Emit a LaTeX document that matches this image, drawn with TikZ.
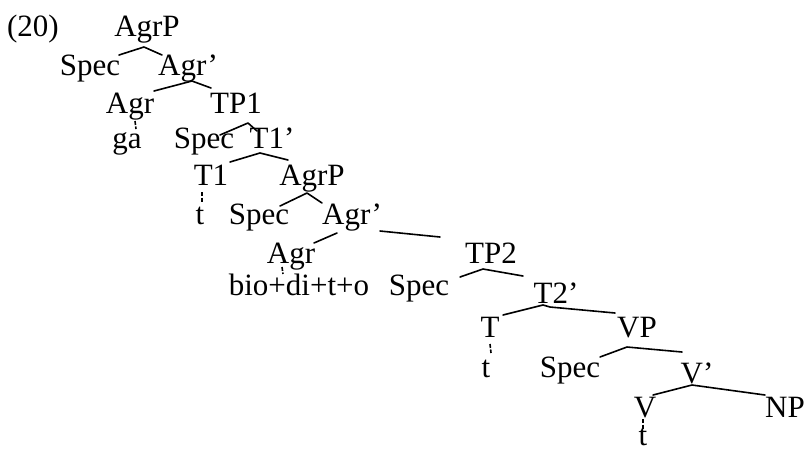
\documentclass[tikz,border=0pt]{standalone}
\usepackage{fontspec}
\setmainfont{Liberation Serif}
\begin{document}
\begin{tikzpicture}[x=1pt,y=-1pt,
  lbl/.style={inner sep=0pt, anchor=base, font=\fontsize{31}{36}\selectfont},
  br/.style={line width=1.6pt, line join=round, line cap=round},
  trace/.style={line width=1.6pt, dash pattern=on 4pt off 1.5pt}]
\useasboundingbox (0,0) rectangle (805,451);
% labels
\node[lbl] (ex) at (33,36) {(20)};
\node[lbl] (agrp1) at (147,36) {AgrP};
\node[lbl] (spec1) at (90,75) {Spec};
\node[lbl] (agrb1) at (188,75) {Agr’};
\node[lbl] (agr1) at (130,113) {Agr};
\node[lbl] (tp1) at (236,113) {TP1};
\node[lbl] (ga) at (127,148) {ga};
\node[lbl] (spec2) at (204,148) {Spec};
\node[lbl] (t1b) at (272,148) {T1’};
\node[lbl] (t1) at (211,185) {T1};
\node[lbl] (agrp2) at (312,185) {AgrP};
\node[lbl] (tra) at (200,224) {t};
\node[lbl] (spec3) at (259,224) {Spec};
\node[lbl] (agrb2) at (352,224) {Agr’};
\node[lbl] (agr2) at (291,263) {Agr};
\node[lbl] (tp2) at (491,263) {TP2};
\node[lbl] (bio) at (299,295) {bio+di+t+o};
\node[lbl] (spec4) at (419,295) {Spec};
\node[lbl] (t2b) at (556,303) {T2’};
\node[lbl] (tt) at (490,337) {T};
\node[lbl] (vp) at (637,337) {VP};
\node[lbl] (trb) at (486,377) {t};
\node[lbl] (spec5) at (570,377) {Spec};
\node[lbl] (vb) at (697,383) {V’};
\node[lbl] (vv) at (645,417) {V};
\node[lbl] (np) at (785,417) {NP};
\node[lbl] (trc) at (643,445) {t};
% branch points
\coordinate (b1l) at (119,55); \coordinate (b1) at (144,47); \coordinate (b1r) at (162,55);
\coordinate (b2l) at (154,91); \coordinate (b2) at (192,81); \coordinate (b2r) at (211,88);
\coordinate (b3l) at (220,135); \coordinate (b3) at (248,123); \coordinate (b3r) at (257,131);
\coordinate (b4l) at (230,162); \coordinate (b4) at (260,153); \coordinate (b4r) at (288,160);
\coordinate (b5l) at (280,206); \coordinate (b5) at (307,193); \coordinate (b5r) at (322,203);
\coordinate (b6l) at (314,243); \coordinate (b6a) at (337,233);
\coordinate (b6b) at (380,231); \coordinate (b6r) at (440,237);
\coordinate (b7l) at (460,277); \coordinate (b7) at (483,269); \coordinate (b7r) at (523,276);
\coordinate (b8l) at (503,315); \coordinate (b8) at (543,305); \coordinate (b8m) at (550,307); \coordinate (b8r) at (615,313);
\coordinate (b9l) at (600,357); \coordinate (b9) at (627,347); \coordinate (b9r) at (682,352);
\coordinate (b10l) at (653,395); \coordinate (b10) at (692,385); \coordinate (b10r) at (765,395);
\draw[br] (b1l) -- (b1) -- (b1r);
\draw[br] (b2l) -- (b2) -- (b2r);
\draw[br] (b3l) -- (b3) -- (b3r);
\draw[br] (b4l) -- (b4) -- (b4r);
\draw[br] (b5l) -- (b5) -- (b5r);
\draw[br] (b6l) -- (b6a);
\draw[br] (b6b) -- (b6r);
\draw[br] (b7l) -- (b7) -- (b7r);
\draw[br] (b8l) -- (b8) -- (b8m) -- (b8r);
\draw[br] (b9l) -- (b9) -- (b9r);
\draw[br] (b10l) -- (b10) -- (b10r);
% traces
\coordinate (ta1) at (135,121); \coordinate (ta2) at (136,129);
\coordinate (tb1) at (202,192); \coordinate (tb2) at (202,203);
\coordinate (tc1) at (282,267); \coordinate (tc2) at (283,274);
\coordinate (td1) at (490,344); \coordinate (td2) at (491,353);
\coordinate (te1) at (643,419); \coordinate (te2) at (643,429);
\draw[trace] (ta1) -- (ta2);
\draw[trace] (tb1) -- (tb2);
\draw[trace] (tc1) -- (tc2);
\draw[trace] (td1) -- (td2);
\draw[trace] (te1) -- (te2);
\end{tikzpicture}
\end{document}
